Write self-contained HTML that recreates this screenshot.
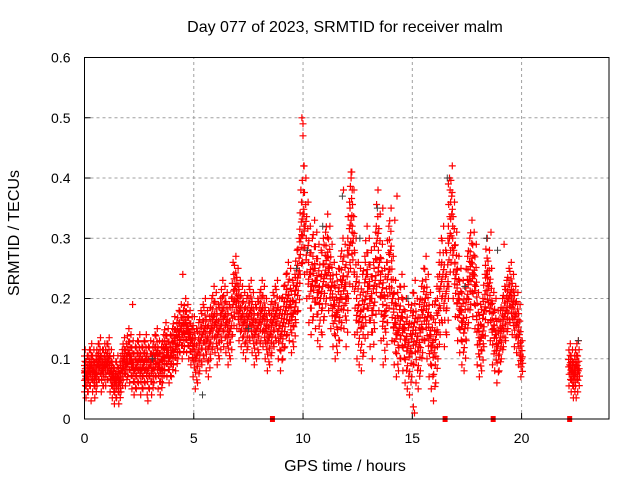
<!DOCTYPE html>
<html><head><meta charset="utf-8"><style>
html,body{margin:0;padding:0;background:#fff;}
svg{display:block;font-family:"Liberation Sans",sans-serif;}
</style></head><body>
<svg id="chart" width="640" height="480" viewBox="0 0 640 480" xmlns="http://www.w3.org/2000/svg">
<rect width="640" height="480" fill="#fff"/>
<text x="345" y="32" font-size="16" text-anchor="middle" fill="#000">Day 077 of 2023, SRMTID for receiver malm</text>
<text x="0" y="0" font-size="16" text-anchor="middle" transform="translate(19,233) rotate(-90)" fill="#000">SRMTID / TECUs</text>
<text x="345" y="471" font-size="16" text-anchor="middle" fill="#000">GPS time / hours</text>
<g id="grid"></g>
<g id="axes"></g>
<g id="marks"></g>
<rect x="84.5" y="57.5" width="524.5" height="361.5" fill="none" stroke="#000" stroke-width="1"/>
</svg>
<script>
const xTicks=[0,5,10,15,20];
const yTicks=[0,0.1,0.2,0.3,0.4,0.5,0.6];
const yTickLabels=["0","0.1","0.2","0.3","0.4","0.5","0.6"];
// mid values (x0.01 TECU) every 0.1 h from 0.0 to 20.0
const midValues=[8,7,8,9,8,7,9,10,8,9, 9,10,8,7,6,7,6,8,10,9, 11,10,9,8,9,10,8,9,10,8, 9,8,10,11,9,8,10,12,11,10,
 11,13,12,14,15,14,16,15,14,13, 12,10,11,13,14,15,13,12,15,17, 16,14,15,18,17,16,14,15,19,22, 20,18,17,16,15,17,18,16,14,15,
 16,18,17,15,13,14,16,17,18,15, 14,16,18,20,19,17,18,22,24,30, 34,32,28,24,22,25,23,21,20,22, 24,27,25,22,19,17,18,20,23,22,
 20,28,33,30,22,18,17,16,19,24, 22,20,18,23,30,26,21,17,18,24, 28,20,16,14,15,17,15,13,12,11, 14,16,13,12,15,18,20,17,14,12,
 11,14,18,22,24,20,22,30,34,28, 24,20,18,16,15,20,23,26,24,22, 15,13,14,18,24,22,19,15,14,12, 13,15,17,18,20,21,19,17,16,14, 10];
const lateTimes=[22.2,22.3,22.4,22.5,22.6];
const lateValues=[9,8,7,9,8];
// per-hour spread (TECU)
const hourSpread=[0.035,0.035,0.04,0.04,0.04,0.05,0.05,0.05,0.05,0.06,0.08,0.07,0.08,0.08,0.07,0.07,0.08,0.07,0.06,0.05,0.03,0.03,0.035];
const peakTimes=[9.95,10.0,10.05,9.9,12.2,12.25,11.85,16.7,16.8,13.65,14.3,14.2,4.5,2.2,6.8,18.6,19.2,15.05,15.1,22.6,22.5,2.9,0.3,10.0,12.2,16.65];
const peakValues=[0.50,0.47,0.42,0.38,0.41,0.38,0.38,0.40,0.37,0.35,0.37,0.33,0.24,0.19,0.26,0.31,0.29,0.02,0.01,0.13,0.035,0.03,0.03,0.49,0.40,0.39];
const blackTimes=[3.1,7.5,10.2,10.9,11.8,12.6,13.4,14.8,16.6,17.4,18.4,18.9,22.6,5.4,9.7];
const blackValues=[0.10,0.15,0.28,0.32,0.37,0.30,0.35,0.20,0.40,0.22,0.30,0.28,0.13,0.04,0.25];
const markerTimes=[8.6,16.5,18.7,22.2];

const X0=84.5,X1=609,Y0=419,Y1=57.5;
function xs(t){return X0+(t/24)*(X1-X0);}
function ys(v){return Y0-(v/0.6)*(Y0-Y1);}
const NS="http://www.w3.org/2000/svg";
const grid=document.getElementById('grid'),axes=document.getElementById('axes'),marks=document.getElementById('marks');
function mk(tag,at,parent){const e=document.createElementNS(NS,tag);for(const k in at)e.setAttribute(k,at[k]);parent.appendChild(e);return e;}
xTicks.forEach(t=>{
  const x=xs(t);
  if(t>0){const g=mk('line',{x1:x,y1:Y0,x2:x,y2:Y1,stroke:'#a0a0a0','stroke-dasharray':'3,3'},grid);
  
  }
  const tk=mk('line',{x1:x,y1:Y0,x2:x,y2:Y0-6,stroke:'#000'},axes);
  
  
  const l=mk('text',{x:x,y:Y0+24,'font-size':14,'text-anchor':'middle',fill:'#000'},axes);l.textContent=String(t);
  
  
});
yTicks.forEach((v,i)=>{
  const y=ys(v);
  if(i>0&&i<yTicks.length-1){const g=mk('line',{x1:X0,y1:y,x2:X1,y2:y,stroke:'#a0a0a0','stroke-dasharray':'3,3'},grid);
  
  }
  const tk=mk('line',{x1:X0,y1:y,x2:X0+6,y2:y,stroke:'#000'},axes);
  
  
  const l=mk('text',{x:X0-14,y:y+5,'font-size':14,'text-anchor':'end',fill:'#000'},axes);l.textContent=yTickLabels[i];
  
  
});
let d='';
function plus(t,v){const x=xs(t),y=ys(v);d+='M'+(x-3.5).toFixed(1)+' '+y.toFixed(1)+'h7M'+x.toFixed(1)+' '+(y-3.5).toFixed(1)+'v7';}
const offs=[-1,-0.7,-0.45,-0.25,-0.1,0,0.1,0.25,0.45,0.7,1],dts=[-0.03,0.04,-0.02,0.05,-0.045,0,0.035,-0.05,0.02,-0.035,0.03];
midValues.forEach((m,i)=>{const t=i*0.1,s=hourSpread[Math.floor(t)];
  offs.forEach((o,k)=>{const v=m/100+o*s;if(v>=0)plus(Math.max(0,t+dts[k]),v);});});
lateValues.forEach((m,i)=>{const t=lateTimes[i],s=hourSpread[22];
  offs.forEach((o,k)=>plus(t+dts[k],m/100+o*s));});
peakTimes.forEach((t,i)=>plus(t,peakValues[i]));
const red=mk('path',{d:d,stroke:'#ff0000','stroke-width':1.2,fill:'none'},marks);


let db='';blackTimes.forEach((t,i)=>{const x=xs(t),y=ys(blackValues[i]);db+='M'+(x-3.5)+' '+y+'h7M'+x+' '+(y-3.5)+'v7';});
const blk=mk('path',{d:db,stroke:'#404040','stroke-width':1,fill:'none'},marks);


markerTimes.forEach(t=>{const r=mk('rect',{x:xs(t)-2.5,y:Y0-3,width:5,height:6,fill:'#ff0000'},marks);
  
  });
</script>
</body></html>
